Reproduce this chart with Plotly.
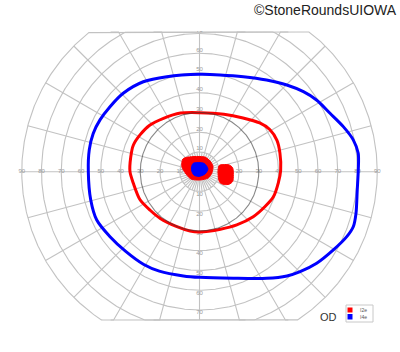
import numpy as np
import plotly.graph_objects as go

# ---------------- data ----------------
RING_R = [10, 20, 30, 40, 50, 60, 70, 80, 90]
SPOKE_ANGLES = list(range(0, 360, 15))
FINE_SPOKE_ANGLES = [a + 7.5 for a in range(0, 360, 15)]
H_LABELS = [10, 20, 30, 40, 50, 60, 70, 80, 90]
V_LABELS = [10, 20, 30, 40, 50, 60, 70]

# I4e isopter (blue): meridian angle (deg), eccentricity (deg)
blue_angle = [0.6, 6.6, 11.7, 17.4, 24.1, 31.5, 37.6, 44.8, 53.8, 65.2, 78.0, 89.7,
              109, 122, 134.2, 144, 152.5, 160.2, 168.8, 180, 194.6, 205.2, 216, 227,
              239, 248, 261.2, 270.3, 287.6, 302.2, 310, 315.2, 322, 329.7, 336.2,
              340.4, 345.1, 353.4]
blue_r = [80.4, 80.9, 79.5, 76.3, 72.4, 69.5, 66.4, 62.3, 57.5, 53.0, 50.1, 49.3,
          50.9, 53.7, 55.4, 56.0, 56.8, 57.2, 56.9, 56.3, 56.9, 57.5, 56.0, 55.0,
          54.8, 54.3, 53.4, 53.5, 56.6, 63.8, 68.9, 71.8, 75.3, 78.5, 81.5,
          82.7, 82.0, 80.4]

# I2e isopter (red)
red_angle = [1, 13, 22, 31, 39, 51, 67, 90, 108, 124, 137, 148, 158, 168, 180,
             190, 205, 218, 230, 247, 261, 270, 290, 305, 320, 332, 341, 352]
red_r = [41.1, 41.8, 42.3, 41.5, 39.2, 35.0, 31.6, 29.9, 31.2, 32.6, 34.5, 35.4,
         36.1, 35.6, 35.2, 34.0, 33.3, 31.7, 30.9, 30.1, 30.4, 30.5, 31.0, 32.9,
         35.5, 37.6, 39.5, 40.3]

# central scotoma I2e (red, filled)
red_central_angle = [23.1, 45.5, 69.3, 128.1, 142.7, 164.9, 190, 220.7, 274, 323.3, 353.7]
red_central_r = [7.4, 7.6, 7.9, 9.4, 10.6, 9.2, 6.9, 5.7, 4.2, 5.4, 6.3]

# central scotoma I4e (blue, filled)
blue_central_angle = [18, 61.3, 128, 165, 211, 264, 336.8]
blue_central_r = [4.5, 4.8, 5.3, 4.2, 3.3, 2.4, 3.0]

# blind spot I2e (red, filled)
blind_angle = [9.0, 17.7, 16.7, 12.8, 6.8, 355, 343.4, 337.2, 332.5, 331.9, 342.5]
blind_r = [9.6, 10.5, 12.5, 15.4, 16.9, 17.2, 17.5, 16.3, 14.1, 11.7, 10.0]

# ---------------- layout constants ----------------
W, H = 400, 352
M_T, M_B = 31, 31
CX, CY = 199.5, 171.7          # pixel centre of fixation
S = 1.975                       # pixels per degree
EDGE_TOP = (CY - 32) / S
EDGE_BOT = (CY - 320) / S
X_RANGE = [-CX / S, (W - CX) / S]
Y_RANGE = [(CY - (H - M_B)) / S, (CY - M_T) / S]

GRID = "#c2c2c2"


def xy(ang, r):
    a = np.radians(np.asarray(ang, float))
    r = np.asarray(r, float)
    return r * np.cos(a), r * np.sin(a)


def closed(ang, r):
    return list(ang) + [ang[0]], list(r) + [r[0]]


fig = go.Figure()

# rings (clipped to the chart edges, which draws the straight edges)
rx, ry = [], []
th = np.linspace(0, 360, 721)
for r in RING_R:
    if r == 30:
        continue
    x, y = xy(th, np.full_like(th, r))
    y = np.clip(y, EDGE_BOT, EDGE_TOP)
    rx += list(x) + [None]
    ry += list(y) + [None]
fig.add_trace(go.Scatter(x=rx, y=ry, mode="lines", line=dict(color=GRID, width=1.1),
                         hoverinfo="skip", showlegend=False))

# spokes
sx, sy = [], []
rr = np.linspace(0, RING_R[-1], 91)
for a in SPOKE_ANGLES:
    x, y = xy(np.full_like(rr, a), rr)
    y = np.clip(y, EDGE_BOT, EDGE_TOP)
    sx += list(x) + [None]
    sy += list(y) + [None]
rr2 = np.linspace(0, RING_R[0], 3)
for a in FINE_SPOKE_ANGLES:
    x, y = xy(np.full_like(rr2, a), rr2)
    sx += list(x) + [None]
    sy += list(y) + [None]
fig.add_trace(go.Scatter(x=sx, y=sy, mode="lines", line=dict(color=GRID, width=1.1),
                         hoverinfo="skip", showlegend=False))

# axis labels
lab_font = dict(family="Liberation Sans, Arial", size=6, color="#9a9a9a")
fig.add_trace(go.Scatter(x=[-v for v in H_LABELS] + H_LABELS, y=[0] * (2 * len(H_LABELS)),
                         text=[str(v) for v in H_LABELS] * 2, mode="text",
                         textposition="middle center", textfont=lab_font,
                         hoverinfo="skip", showlegend=False))
fig.add_trace(go.Scatter(x=[0] * len(V_LABELS), y=V_LABELS, text=[str(v) for v in V_LABELS],
                         mode="text", textposition="top center", textfont=lab_font,
                         hoverinfo="skip", showlegend=False))
fig.add_trace(go.Scatter(x=[0] * len(V_LABELS), y=[-v for v in V_LABELS],
                         text=[str(v) for v in V_LABELS],
                         mode="text", textposition="bottom center", textfont=lab_font,
                         hoverinfo="skip", showlegend=False))

# isopters
a, r = closed(blue_angle, blue_r)
x, y = xy(a, r)
fig.add_trace(go.Scatter(x=x, y=y, mode="lines", line=dict(color="#0000ff", width=3, shape="spline", smoothing=0.8),
                         name="I4e", showlegend=False, hoverinfo="skip"))
a, r = closed(red_angle, red_r)
x, y = xy(a, r)
fig.add_trace(go.Scatter(x=x, y=y, mode="lines", line=dict(color="#ff0000", width=3, shape="spline", smoothing=0.8),
                         name="I2e", showlegend=False, hoverinfo="skip"))

# 30 deg reference ring (dark)
x, y = xy(th, np.full_like(th, 30))
fig.add_trace(go.Scatter(x=x, y=y, mode="lines", line=dict(color="#3a3a3a", width=1.1),
                         opacity=0.6, hoverinfo="skip", showlegend=False))

# filled scotomas
for ang, rad, col in [(red_central_angle, red_central_r, "#ff0000"),
                      (blind_angle, blind_r, "#ff0000"),
                      (blue_central_angle, blue_central_r, "#0000ff")]:
    a, r = closed(ang, rad)
    x, y = xy(a, r)
    fig.add_trace(go.Scatter(x=x, y=y, mode="lines", fill="toself", fillcolor=col,
                             line=dict(color=col, width=1, shape="spline", smoothing=0.8),
                             hoverinfo="skip", showlegend=False))


def px(xp):
    return xp / W


def py(yp):
    return (H - M_B - yp) / (H - M_T - M_B)


shapes = [
    dict(type="rect", xref="paper", yref="paper", x0=px(346), x1=px(373), y0=py(322), y1=py(305),
         line=dict(color="#c8c8c8", width=1), fillcolor="white"),
    dict(type="rect", xref="paper", yref="paper", x0=px(347.5), x1=px(352.5), y0=py(312.5), y1=py(307.5),
         line=dict(width=0), fillcolor="#ff0000"),
    dict(type="rect", xref="paper", yref="paper", x0=px(347.5), x1=px(352.5), y0=py(319.5), y1=py(314),
         line=dict(width=0), fillcolor="#0000ff"),
]

annotations = [
    dict(text="©StoneRoundsUIOWA", xref="paper", yref="paper", x=px(398.5), y=py(10.5),
         xanchor="right", yanchor="middle", showarrow=False,
         font=dict(family="Liberation Sans, Arial", size=14, color="#222222")),
    dict(text="OD", xref="paper", yref="paper", x=px(328), y=py(316.5),
         xanchor="center", yanchor="middle", showarrow=False,
         font=dict(family="Liberation Sans, Arial", size=11, color="#333333")),
    dict(text="I2e", xref="paper", yref="paper", x=px(357.5), y=py(310),
         xanchor="left", yanchor="middle", showarrow=False,
         font=dict(family="Liberation Sans, Arial", size=5, color="#555555")),
    dict(text="I4e", xref="paper", yref="paper", x=px(357.5), y=py(316.5),
         xanchor="left", yanchor="middle", showarrow=False,
         font=dict(family="Liberation Sans, Arial", size=5, color="#555555")),
]

fig.update_layout(
    width=W, height=H,
    margin=dict(l=0, r=0, t=M_T, b=M_B, pad=0),
    paper_bgcolor="white", plot_bgcolor="white",
    xaxis=dict(range=X_RANGE, visible=False, showgrid=False, zeroline=False, fixedrange=True),
    yaxis=dict(range=Y_RANGE, visible=False, showgrid=False, zeroline=False, fixedrange=True),
    shapes=shapes, annotations=annotations, showlegend=False,
)

fig.write_html("out.html")
